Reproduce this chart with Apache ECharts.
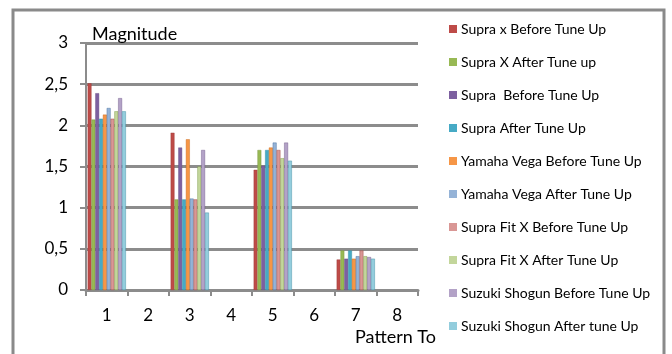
<!DOCTYPE html>
<html>
<head>
<meta charset="utf-8">
<script src="https://cdn.jsdelivr.net/npm/echarts@6/dist/echarts.min.js"></script>
<style>
  html, body { margin: 0; padding: 0; background: #fff; }
  #chart { width: 672px; height: 354px; }
</style>
</head>
<body>
<div id="chart"></div>
<script>
// Pattern numbers on the category axis
const patterns = ['1', '2', '3', '4', '5', '6', '7', '8'];

// Magnitude per pattern for each motorcycle (blank patterns are null)
const supraXBefore       = [2.51, null, 1.91, null, 1.46, null, 0.37, null];
const supraXAfter        = [2.07, null, 1.10, null, 1.70, null, 0.48, null];
const supraBefore        = [2.39, null, 1.73, null, 1.51, null, 0.38, null];
const supraAfter         = [2.08, null, 1.10, null, 1.70, null, 0.48, null];
const yamahaVegaBefore   = [2.13, null, 1.83, null, 1.73, null, 0.38, null];
const yamahaVegaAfter    = [2.21, null, 1.11, null, 1.79, null, 0.41, null];
const supraFitXBefore    = [2.08, null, 1.10, null, 1.70, null, 0.48, null];
const supraFitXAfter     = [2.17, null, 1.50, null, 1.60, null, 0.41, null];
const suzukiShogunBefore = [2.33, null, 1.70, null, 1.79, null, 0.40, null];
const suzukiShogunAfter  = [2.17, null, 0.94, null, 1.57, null, 0.38, null];

const seriesNames = [
  'Supra x Before Tune Up',
  'Supra X After Tune up',
  'Supra  Before Tune Up',
  'Supra After Tune Up',
  'Yamaha Vega Before Tune Up',
  'Yamaha Vega After Tune Up',
  'Supra Fit X Before Tune Up',
  'Supra Fit X After Tune Up',
  'Suzuki Shogun Before Tune Up',
  'Suzuki Shogun After tune Up'
];
const seriesValues = [
  supraXBefore, supraXAfter, supraBefore, supraAfter, yamahaVegaBefore,
  yamahaVegaAfter, supraFitXBefore, supraFitXAfter, suzukiShogunBefore, suzukiShogunAfter
];
const palette = ['#BE4B48', '#98B954', '#7D60A0', '#46AAC5', '#F69646',
                 '#95B3D7', '#D99795', '#C3D69B', '#B3A2C7', '#93CDDD'];

const font = 'Lato, "Open Sans", sans-serif';
const axisGray = '#8c8c8c';

const chart = echarts.init(document.getElementById('chart'), null, { renderer: 'canvas' });

chart.setOption({
  animation: false,
  color: palette,
  graphic: [
    {
      type: 'rect',
      shape: { x: 13, y: 10, width: 651, height: 360 },
      style: { fill: 'none', stroke: '#8a8a8a', lineWidth: 3 },
      silent: true
    }
  ],
  grid: { left: 86, right: 254, top: 43, bottom: 64 },
  legend: {
    orient: 'vertical',
    left: 444,
    top: 17,
    itemWidth: 8,
    itemHeight: 8,
    itemGap: 19,
    icon: 'rect',
    itemStyle: { borderWidth: 0 },
    textStyle: { fontFamily: font, fontSize: 14, color: '#000', padding: [0, 0, 0, -1] },
    data: seriesNames
  },
  xAxis: {
    type: 'category',
    data: patterns,
    name: 'Pattern To',
    nameLocation: 'end',
    nameGap: 18,
    nameTextStyle: {
      fontFamily: font, fontSize: 18, color: '#000',
      align: 'right', verticalAlign: 'top', padding: [38, 0, 0, 0]
    },
    axisLine: { lineStyle: { color: axisGray, width: 3 } },
    axisTick: { show: true, alignWithLabel: false, length: 6, lineStyle: { color: axisGray, width: 2 } },
    axisLabel: { fontFamily: font, fontSize: 17, color: '#000', margin: 17 },
    splitLine: { show: false }
  },
  yAxis: {
    type: 'value',
    min: 0,
    max: 3,
    interval: 0.5,
    name: 'Magnitude',
    nameLocation: 'end',
    nameGap: 0,
    nameTextStyle: {
      fontFamily: font, fontSize: 18, color: '#000', align: 'left', padding: [0, 0, 0, 6]
    },
    axisLine: { show: true, lineStyle: { color: axisGray, width: 2 } },
    axisTick: { show: true, length: 6, lineStyle: { color: axisGray, width: 2 } },
    axisLabel: {
      fontFamily: font, fontSize: 17, color: '#000', margin: 18,
      formatter: v => String(v).replace('.', ',')
    },
    splitLine: { show: true, lineStyle: { color: axisGray, width: 3 } }
  },
  series: seriesNames.map((name, i) => ({
    name: name,
    type: 'bar',
    data: seriesValues[i],
    barGap: '0%',
    barCategoryGap: '8%',
    itemStyle: {
      color: palette[i],
      borderColor: echarts.color.modifyHSL(palette[i], null, null, 0.4),
      borderWidth: 0.4
    }
  }))
});
</script>
</body>
</html>
